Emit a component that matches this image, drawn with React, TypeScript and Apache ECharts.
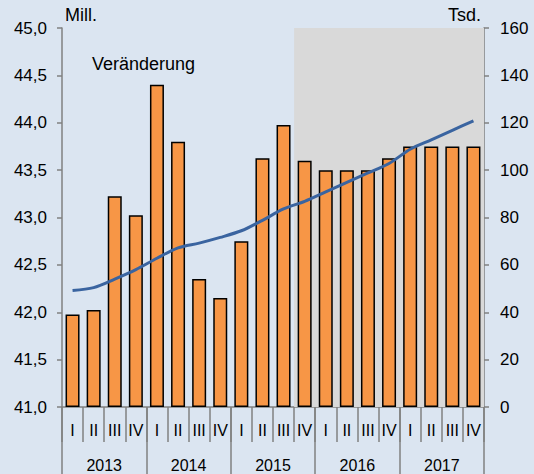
import React, { useEffect, useRef } from "react";
import * as echarts from "echarts";

const years = ["2013", "2014", "2015", "2016", "2017"];
const quarterNames = ["I", "II", "III", "IV"];
const categories = years.flatMap((y) => quarterNames.map((q) => `${y}-${q}`));

// Veränderung (Tsd.), right axis
const changeTsd = [39, 41, 89, 81, 136, 112, 54, 46, 70, 105, 119, 104, 100, 100, 100, 105, 110, 110, 110, 110];
// Niveau (Mill.), left axis
const levelMill = [42.23, 42.26, 42.35, 42.45, 42.57, 42.68, 42.73, 42.79, 42.86, 42.97, 43.09, 43.17, 43.27, 43.37, 43.47, 43.57, 43.72, 43.82, 43.92, 44.02];

// forecast shading: from category index 11 to end (on hidden 0..20 value axis)
const forecastStart = 11;
const forecastEnd = 20;

const FONT = "'Liberation Sans', Arial, sans-serif";
const AXIS_GRAY = "#808080";

export default function App() {
  const ref = useRef<HTMLDivElement>(null);
  useEffect(() => {
    if (!ref.current) return;
    const chart = echarts.init(ref.current, undefined, { renderer: "svg" });
    chart.setOption({
      animation: false,
      backgroundColor: "#dbe5f1",
      textStyle: { fontFamily: FONT },
      grid: { left: 62, right: 50, top: 28, bottom: 67 },
      xAxis: [
        {
          type: "category",
          data: categories,
          position: "bottom",
          boundaryGap: true,
          axisLine: { show: true, lineStyle: { color: AXIS_GRAY, width: 1.5 } },
          axisTick: { show: true, interval: 0, length: 35, lineStyle: { color: AXIS_GRAY, width: 1.5 } },
          axisLabel: {
            interval: 0,
            margin: 15,
            color: "#000",
            fontSize: 16,
            fontFamily: FONT,
            formatter: (v: string) => v.split("-")[1],
          },
          splitLine: { show: false },
        },
        {
          type: "category",
          data: years,
          position: "bottom",
          boundaryGap: true,
          axisLine: { show: false },
          axisTick: { show: true, interval: 0, length: 67, lineStyle: { color: AXIS_GRAY, width: 1.5 } },
          axisLabel: { interval: 0, margin: 50, color: "#000", fontSize: 16, fontFamily: FONT },
          splitLine: { show: false },
        },
        {
          type: "value",
          min: 0,
          max: 20,
          show: false,
        },
      ],
      yAxis: [
        {
          type: "value",
          min: 41,
          max: 45,
          interval: 0.5,
          position: "left",
          axisLine: { show: true, lineStyle: { color: AXIS_GRAY, width: 1.5 } },
          axisTick: { show: true, length: 5, lineStyle: { color: AXIS_GRAY, width: 1.5 } },
          axisLabel: {
            margin: 15,
            color: "#000",
            fontSize: 17,
            fontFamily: FONT,
            formatter: (v: number) => v.toFixed(1).replace(".", ","),
          },
          splitLine: { show: false },
        },
        {
          type: "value",
          min: 0,
          max: 160,
          interval: 20,
          position: "right",
          axisLine: { show: true, lineStyle: { color: AXIS_GRAY, width: 1.5 } },
          axisTick: { show: true, length: 5, lineStyle: { color: AXIS_GRAY, width: 1.5 } },
          axisLabel: { margin: 16, color: "#000", fontSize: 17, fontFamily: FONT },
          splitLine: { show: false },
        },
      ],
      series: [
        {
          type: "line",
          xAxisIndex: 2,
          yAxisIndex: 0,
          data: [],
          z: 0,
          silent: true,
          markArea: {
            silent: true,
            itemStyle: { color: "#d9d9d9" },
            data: [[{ xAxis: forecastStart }, { xAxis: forecastEnd }]],
          },
        },
        {
          type: "bar",
          xAxisIndex: 0,
          yAxisIndex: 1,
          data: changeTsd,
          barWidth: 14,
          z: 3,
          itemStyle: { color: "#f79646", borderColor: "#000", borderWidth: 1.5 },
        },
        {
          type: "line",
          xAxisIndex: 0,
          yAxisIndex: 0,
          data: levelMill,
          smooth: 0.3,
          showSymbol: false,
          z: 5,
          lineStyle: { color: "#3a64a0", width: 3 },
          itemStyle: { color: "#3a64a0" },
        },
      ],
      graphic: [
        { type: "text", left: 65, top: 6, style: { text: "Mill.", fontSize: 18, fontFamily: FONT, fill: "#000" } },
        { type: "text", right: 53, top: 6, style: { text: "Tsd.", fontSize: 18, fontFamily: FONT, fill: "#000" } },
        { type: "text", left: 92, top: 55, style: { text: "Veränderung", fontSize: 18, fontFamily: FONT, fill: "#000" } },
        { type: "text", left: 403, top: 92, style: { text: "Niveau", fontSize: 18, fontFamily: FONT, fill: "#000" } },
      ],
    });
    return () => chart.dispose();
  }, []);
  return (
    <div
      ref={ref}
      style={{ position: "fixed", left: 0, top: 0, width: 534, height: 474 }}
    />
  );
}
